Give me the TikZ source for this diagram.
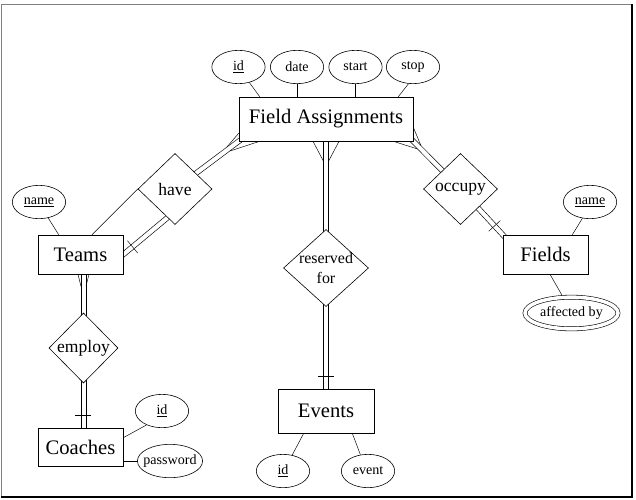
\documentclass[tikz,border=0pt]{standalone}
\usepackage{fontspec}
\setmainfont{Liberation Serif}
\usetikzlibrary{shapes,positioning,calc}
\pgfdeclarelayer{background}
\pgfsetlayers{background,main}

% two parallel lines, 5px apart
\newcommand{\twinline}[2]{%
  \draw ($(#1)!2.1pt!90:(#2)$) -- ($(#2)!2.1pt!-90:(#1)$);
  \draw ($(#1)!2.1pt!-90:(#2)$) -- ($(#2)!2.1pt!90:(#1)$);}
% one stroke across a line, near its first end
\newcommand{\onebar}[2]{%
  \coordinate (barmid) at ($(#1)!0.36cm!(#2)$);
  \draw ($(barmid)!0.24cm!90:(#2)$) -- ($(barmid)!0.24cm!-90:(#2)$);}

\begin{document}
\begin{tikzpicture}[x=0.03cm, y=-0.03cm,
                    every node/.style={on grid},
                    entity/.style={draw, fill=white, rectangle, minimum width=2.55cm, minimum height=1.17cm, font=\fontsize{17.6}{20}\selectfont},
                    rel/.style={draw, fill=white, diamond, inner sep=0pt, minimum width=2.22cm, minimum height=2.13cm, font=\fontsize{15}{17}\selectfont},
                    attr/.style={draw, fill=white, ellipse, inner xsep=-3pt, inner ysep=0pt, minimum width=1.6cm, minimum height=1cm, font=\fontsize{12}{14}\selectfont},
                    line width=0.5pt]
    \useasboundingbox (0,0) rectangle (636,500);

    \node[entity, minimum width=5.22cm, minimum height=1.32cm] (fa) at (326,119) {Field Assignments};
    \node[attr, above left=1.56cm and 0.87cm of fa] (date) {date};
    \node[attr, left=1.755cm of date] (faid) {\underline{id}};
    \node[attr, right=1.755cm of date] (start) {start};
    \node[attr, right=1.725cm of start] (stop) {stop};

    \node[rel, below left=2.1cm and 4.53cm of fa] (have) {have};
    \node[rel, below right=2.1cm and 4.035cm of fa] (occupy) {occupy};
    \node[rel, below=4.47cm of fa, minimum width=2.55cm, minimum height=2.31cm, inner sep=-2pt, align=center, font=\fontsize{13.6}{17}\selectfont] (reserved) {reserved\\for};

    \node[entity, below=4.29cm of reserved, minimum width=2.88cm, minimum height=1.32cm] (events) {Events};
    \node[attr, below left=1.8cm and 1.29cm of events] (eventid) {\underline{id}};
    \node[attr, below right=1.8cm and 1.26cm of events] (event) {event};

    \node[entity, below left=1.965cm and 2.835cm of have] (teams) {Teams};
    \node[attr, above left=1.575cm and 1.245cm of teams] (teamname) {\underline{name}};
    \node[rel, below right=2.805cm and 0.09cm of teams, minimum width=2.07cm, minimum height=2.1cm] (employ) {employ};
    \node[entity, below=5.775cm of teams, minimum height=1.14cm] (coaches) {Coaches};
    \node[attr, above right=1.08cm and 2.445cm of coaches] (coachid) {\underline{id}};
    \node[attr, below right=0.42cm and 2.685cm of coaches] (password) {password};

    \node[entity, below right=1.965cm and 2.55cm of occupy] (fields) {Fields};
    \node[attr, above right=1.575cm and 1.335cm of fields] (fieldname) {\underline{name}};
    \node[attr, below right=1.755cm and 0.78cm of fields, double, double distance=3pt, minimum width=2.79cm, minimum height=0.95cm] (affected) {affected by};

    \begin{pgfonlayer}{background}
        % attributes
        \draw (faid.-55) -- ($(fa.north west)+(21,0)$);
        \draw (date.south) -- (date.south |- fa.north);
        \draw (start.south) -- (start.south |- fa.north);
        \draw (stop.-105) -- ($(fa.north east)+(-15,0)$);
        \draw (teamname.-60) -- ($(teams.north west)+(21,0)$);
        \draw (fieldname.-115) -- ($(fields.north east)+(-16,0)$);
        \draw ($(fields.south)+(4.5,0)$) -- (affected.118);
        \draw ($(events.south west)+(26,0)$) -- (eventid.60);
        \draw ($(events.south east)+(-22,0)$) -- (event.115);
        \draw ($(coaches.north east)+(0,10)$) -- (coachid.222);
        \draw (password.west) -- (password.west -| coaches.east);

        % have
        \draw (have.west) -- ($(teams.north)+(11.5,0)$);
        \coordinate (havefoot) at ($(have.west)!0.8!(have.south)$);
        \coordinate (teamside) at ($(havefoot)!1.04!(teams.east)$);
        \twinline{teamside}{havefoot}
        \onebar{teams.east}{havefoot}
        \coordinate (facorner) at ($(have)!1.06!(fa.south west)$);
        \coordinate (hp) at ($(fa.south west)!0.39cm!(have)$);
        \draw ($(fa.south west)+(0,-8)$) -- ($(hp)!2.1pt!90:(fa.south west)$);
        \draw ($(fa.south west)+(21,0)$) -- ($(hp)!2.1pt!-90:(fa.south west)$);
        \twinline{have}{facorner}

        % occupy
        \coordinate (facorner) at ($(occupy)!1.06!(fa.south east)$);
        \coordinate (op) at ($(fa.south east)!0.25cm!(occupy)$);
        \draw ($(fa.south east)+(-20,0)$) -- ($(op)!2.1pt!90:(fa.south east)$);
        \draw ($(fa.south east)+(0,-14)$) -- ($(op)!2.1pt!-90:(fa.south east)$);
        \twinline{occupy}{facorner}
        \coordinate (fieldcorner) at ($(occupy)!1.06!(fields.north west)$);
        \twinline{occupy}{fieldcorner}
        \onebar{fields.north west}{occupy}

        % reserved for
        \draw ($(fa.south)+(-13,0)$) -- ($(fa.south)+(-2.5,20)$);
        \draw ($(fa.south)+(13,0)$) -- ($(fa.south)+(2.5,20)$);
        \twinline{reserved}{fa}
        \twinline{reserved}{events}
        \onebar{events.north}{reserved}

        % employ
        \coordinate (teamfoot) at (employ |- teams);
        \coordinate (coachtop) at (employ |- coaches);
        \draw ($(employ |- teams.south)+(-5.5,0)$) -- ($(employ |- teams.south)+(-2.5,12)$);
        \draw ($(employ |- teams.south)+(5.5,0)$) -- ($(employ |- teams.south)+(2.5,12)$);
        \twinline{employ}{teamfoot}
        \twinline{employ}{coachtop}
        \onebar{employ |- coaches.north}{employ}
    \end{pgfonlayer}

    % frame
    \draw[gray, line width=0.6pt] (1,497) -- (1,4) -- (632,4);
    \draw[line width=1.5pt] (632,4) -- (632,497) -- (1,497);
\end{tikzpicture}
\end{document}
